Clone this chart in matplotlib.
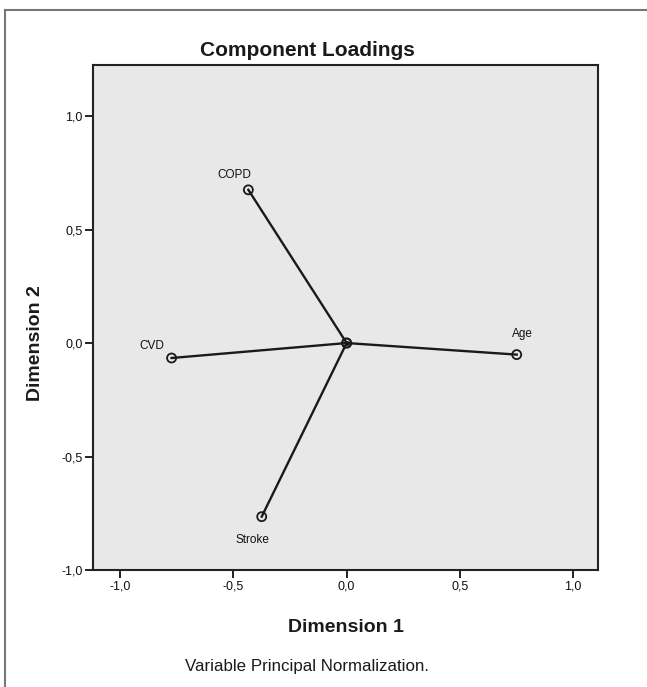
import matplotlib
matplotlib.use('Agg')
import matplotlib.pyplot as plt
from matplotlib.lines import Line2D

plt.rcParams['font.family'] = ['Liberation Sans', 'DejaVu Sans']

# component loadings
variables = ['COPD', 'CVD', 'Age', 'Stroke']
dim1 = [-0.434, -0.773, 0.751, -0.375]
dim2 = [0.675, -0.066, -0.051, -0.765]

ticks = [-1.0, -0.5, 0.0, 0.5, 1.0]
tick_labels = ['-1,0', '-0,5', '0,0', '0,5', '1,0']

# label offsets from the marker, in pixels
label_offsets = {'COPD': (-14, 15), 'CVD': (-20, 12), 'Age': (6, 21), 'Stroke': (-9, -23)}

fig = plt.figure(figsize=(6.47, 6.87), dpi=100)
ax = fig.add_axes([93 / 647, 117 / 687, 505 / 647, 505 / 687])
ax.set_facecolor('#e8e8e8')

# lines from origin to each variable
for x, y in zip(dim1, dim2):
    ax.plot([0, x], [0, y], color='#1a1a1a', lw=1.7, zorder=2)
ax.scatter(dim1, dim2, s=42, facecolors='none', edgecolors='#1a1a1a', linewidths=1.3, zorder=3)
ax.scatter([0], [0], s=42, facecolors='none', edgecolors='#1a1a1a', linewidths=1.6, zorder=3)
ax.scatter([0], [0], s=6, color='#1a1a1a', zorder=4)

for name, x, y in zip(variables, dim1, dim2):
    ax.annotate(name, (x, y), xytext=label_offsets[name], textcoords='offset pixels',
                ha='center', va='center', fontsize=8.5, color='#111111')

ax.set_xlim(-1.12, 1.11)
ax.set_ylim(-1.0, 1.225)
ax.set_xticks(ticks)
ax.set_xticklabels(tick_labels)
ax.set_yticks(ticks)
ax.set_yticklabels(tick_labels)
ax.tick_params(direction='out', length=6, width=1.4, color='#222222', labelsize=9,
               labelcolor='#111111', pad=1.5)
for sp in ax.spines.values():
    sp.set_linewidth(1.5)
    sp.set_color('#222222')

ax.set_xlabel('Dimension 1', fontsize=14, fontweight='bold', color='#1a1a1a')
ax.set_ylabel('Dimension 2', fontsize=14, fontweight='bold', color='#1a1a1a')
ax.xaxis.set_label_coords(0.5, -(619 - 570) / 505)
ax.yaxis.set_label_coords(-(93 - 44) / 505, (570 - 343) / 505)

fig.text(307 / 647, 1 - 50 / 687, 'Component Loadings', ha='center', va='center',
         fontsize=15, fontweight='bold', color='#1a1a1a')
fig.text(307 / 647, 1 - 666 / 687, 'Variable Principal Normalization.', ha='center', va='center',
         fontsize=12.2, color='#1a1a1a')

# outer frame (left and top edges)
fig.add_artist(Line2D([5 / 647, 5 / 647], [0, 1 - 10 / 687], color='#777777', lw=1.5))
fig.add_artist(Line2D([5 / 647, 1], [1 - 10 / 687, 1 - 10 / 687], color='#777777', lw=1.5))

fig.savefig('out.png', dpi=100)
